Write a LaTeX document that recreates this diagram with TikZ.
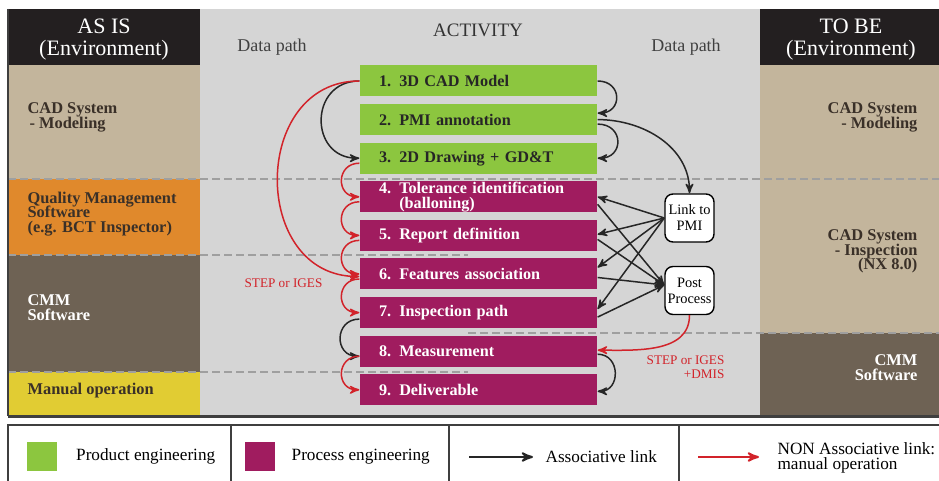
\documentclass[tikz,border=0pt]{standalone}
\usepackage{fontspec}
\setmainfont{Liberation Serif}
\usetikzlibrary{positioning, arrows, calc}

\definecolor{asisblack}{HTML}{231F20}
\definecolor{cadtan}{HTML}{C3B59C}
\definecolor{qmorange}{HTML}{E0892C}
\definecolor{cmmbrown}{HTML}{6E6254}
\definecolor{manyellow}{HTML}{E1CC33}
\definecolor{midgrey}{HTML}{D5D5D5}
\definecolor{prodgreen}{HTML}{8CC63F}
\definecolor{procmag}{HTML}{A01C5F}
\definecolor{linkred}{HTML}{D2232A}
\definecolor{lanetext}{HTML}{3A3028}
\definecolor{framegrey}{HTML}{3F3F3F}

\begin{document}
\lineskiplimit=-9pt
\begin{tikzpicture}[x=0.5pt, y=0.5pt, >=stealth', semithick,
    actbox/.style={rectangle, on grid, node distance=19.3pt,
      minimum width=118.5pt, minimum height=15.5pt,
      text width=99.5pt, inner xsep=9.5pt, inner ysep=0pt, align=left,
      font=\fontsize{8.1}{7.5}\selectfont\bfseries},
    prodbox/.style={actbox, fill=prodgreen, text=black!85},
    procbox/.style={actbox, fill=procmag, text=white},
    toolbox/.style={rectangle, rounded corners=4pt, draw, fill=white, line width=0.7pt,
      minimum width=24.5pt, minimum height=24pt, inner sep=0.5pt, align=center,
      font=\fontsize{7.2}{8}\selectfont},
    lane/.style={font=\fontsize{8.2}{7.4}\selectfont\bfseries, inner sep=0pt},
    head/.style={text=white, align=center, font=\fontsize{11}{11}\selectfont},
    assoc/.style={->, draw=black!85, line width=0.75pt},
    manual/.style={->, draw=linkred, line width=0.75pt},
    lanesep/.style={draw=gray!75, line width=1pt, dash pattern=on 4pt off 2pt},
    legtext/.style={font=\fontsize{8.6}{7.6}\selectfont, align=left, anchor=west, inner sep=0pt}]

  \useasboundingbox (0,0) rectangle (939,481);

  % lanes
  \fill[midgrey] (200,65) rectangle (760,472);
  \fill[asisblack] (8,416) rectangle (200,472);
  \fill[asisblack] (760,416) rectangle (939,472);
  \fill[cadtan] (8,302) rectangle (200,416);
  \fill[qmorange] (8,226) rectangle (200,302);
  \fill[cmmbrown] (8,109) rectangle (200,226);
  \fill[manyellow] (8,65) rectangle (200,109);
  \fill[cadtan] (760,148) rectangle (939,416);
  \fill[cmmbrown] (760,65) rectangle (939,148);
  \draw[lanesep] (8,302) -- (939,302);
  \draw[lanesep] (8,226) -- (468,226);
  \draw[lanesep] (8,109) -- (468,109);
  \draw[lanesep] (468,148) -- (939,148);
  \draw[framegrey, line width=0.7pt] (8,472) -- (8,64.5);
  \draw[framegrey, line width=1.3pt] (8,64.5) -- (939,64.5);

  % headers
  \node[head] (asis) at (104,441) {AS IS\\(Environment)};
  \node[head] (tobe) at (851,441) {TO BE\\(Environment)};
  \node[font=\fontsize{9.5}{10}\selectfont, text=black!80] (activity) at (478,451) {ACTIVITY};
  \node[font=\fontsize{9}{10}\selectfont, text=black!75] (pathl) at (272,434) {Data path};
  \node[font=\fontsize{9}{10}\selectfont, text=black!75] (pathr) at (686,434) {Data path};

  % environment labels
  \node[lane, anchor=west, align=left, text=lanetext] (asiscad) at (27,363.5) {CAD System\\\hspace{1pt}- Modeling};
  \node[lane, anchor=west, align=left, text=lanetext] (asisqm) at (27,267) {Quality Management\\Software\\(e.g. BCT Inspector)};
  \node[lane, anchor=west, align=left, text=white] (asiscmm) at (27,173.5) {CMM\\Software};
  \node[lane, anchor=west, text=lanetext] (asisman) at (27,90) {Manual operation};
  \node[lane, anchor=east, align=right, text=lanetext] (tobecad) at (918,363.5) {CAD System\\- Modeling};
  \node[lane, anchor=east, align=right, text=lanetext] (tobeinsp) at (918,229.5) {CAD System\\- Inspection\\(NX 8.0)};
  \node[lane, anchor=east, align=right, text=white] (tobecmm) at (918,113) {CMM\\Software};

  % activities
  \node[prodbox] (b1) at (478.5,400) {1. 3D CAD Model};
  \node[prodbox, below=of b1] (b2) {2. PMI annotation};
  \node[prodbox, below=of b2] (b3) {3. 2D Drawing + GD\&T};
  \node[procbox, below=of b3] (b4) {4. Tolerance identification\\\phantom{4. }(balloning)};
  \node[procbox, below=of b4] (b5) {5. Report definition};
  \node[procbox, below=of b5] (b6) {6. Features association};
  \node[procbox, below=of b6] (b7) {7. Inspection path};
  \node[procbox, below=of b7] (b8) {8. Measurement};
  \node[procbox, below=of b8] (b9) {9. Deliverable};

  \node[toolbox] (pmi) at (689.5,263) {Link to\\PMI};
  \node[toolbox] (post) at (689.5,190.5) {Post\\Process};

  % associative links
  \draw[assoc] (b1.east) to[out=0, in=0, looseness=2] ([yshift=3.25pt]b2.east);
  \draw[assoc] ([yshift=-2.25pt]b2.east) to[out=0, in=0, looseness=2] (b3.east);
  \draw[assoc] (b2.east) to[out=0, in=90] (pmi.north);
  \draw[assoc] (b1.west) to[out=180, in=180, looseness=1.68] (b3.west);
  \draw[assoc] ([yshift=-3.25pt]b7.west) to[out=180, in=180, looseness=1.75] ([yshift=-2.5pt]b8.west);
  \draw[assoc] ([yshift=-1.5pt]b8.east) to[out=0, in=0, looseness=1.6] ([yshift=-0.75pt]b9.east);
  \foreach \b/\s in {b4/0pt, b5/0.5pt, b6/3.25pt, b7/1.75pt}
    \draw[assoc] (pmi.west) -- ([yshift=\s]\b.east);
  \foreach \b/\t in {b4/-3.75pt, b5/-2pt, b6/-1.75pt, b7/-2.25pt}
    \draw[assoc] ([yshift=\t]\b.east) -- ([yshift=2.75pt]post.west);

  % manual links
  \draw[manual] (b1.west) to[out=180, in=180, looseness=1.43] ([yshift=-1.25pt]b6.west);
  \foreach \a/\b in {b3/b4, b4/b5, b5/b6, b6/b7, b8/b9}
    \draw[manual] ([yshift=-2.5pt]\a.west) to[out=180, in=180, looseness=1.8] (\b.west);
  \draw[manual] (post.south) to[out=-90, in=0] ([yshift=0.5pt]b8.east);

  \node[text=linkred, font=\fontsize{6.6}{7}\selectfont] (stepl) at (283.5,198) {STEP or IGES};
  \node[text=linkred, font=\fontsize{6.6}{7}\selectfont, align=right, anchor=east, inner sep=0pt] (stepr) at (725,114) {STEP or IGES\\+DMIS};

  % legend
  \draw[framegrey, line width=0.8pt] (8,-10) rectangle (950,56);
  \foreach \x in {231, 449, 679}
    \draw[framegrey, line width=0.8pt] (\x,56) -- (\x,-10);
  \node[fill=prodgreen, minimum width=15pt, minimum height=14.5pt, inner sep=0pt] (legprod) at (42,24.5) {};
  \node[legtext, right=9pt of legprod] (legprodtext) {Product engineering};
  \node[fill=procmag, minimum width=15pt, minimum height=14.5pt, inner sep=0pt] (legproc) at (259.5,24.5) {};
  \node[legtext, right=8pt of legproc] (legproctext) {Process engineering};
  \coordinate (assocstart) at (469,24);
  \coordinate (assocend) at (533,24);
  \draw[assoc, line width=1pt] (assocstart) -- (assocend);
  \node[legtext] (legassoc) at (545,24) {Associative link};
  \coordinate (manualstart) at (698,24);
  \coordinate (manualend) at (759,24);
  \draw[manual, line width=1pt] (manualstart) -- (manualend);
  \node[legtext] (legmanual) at (777,23.5) {NON Associative link:\\manual operation};
\end{tikzpicture}
\end{document}
